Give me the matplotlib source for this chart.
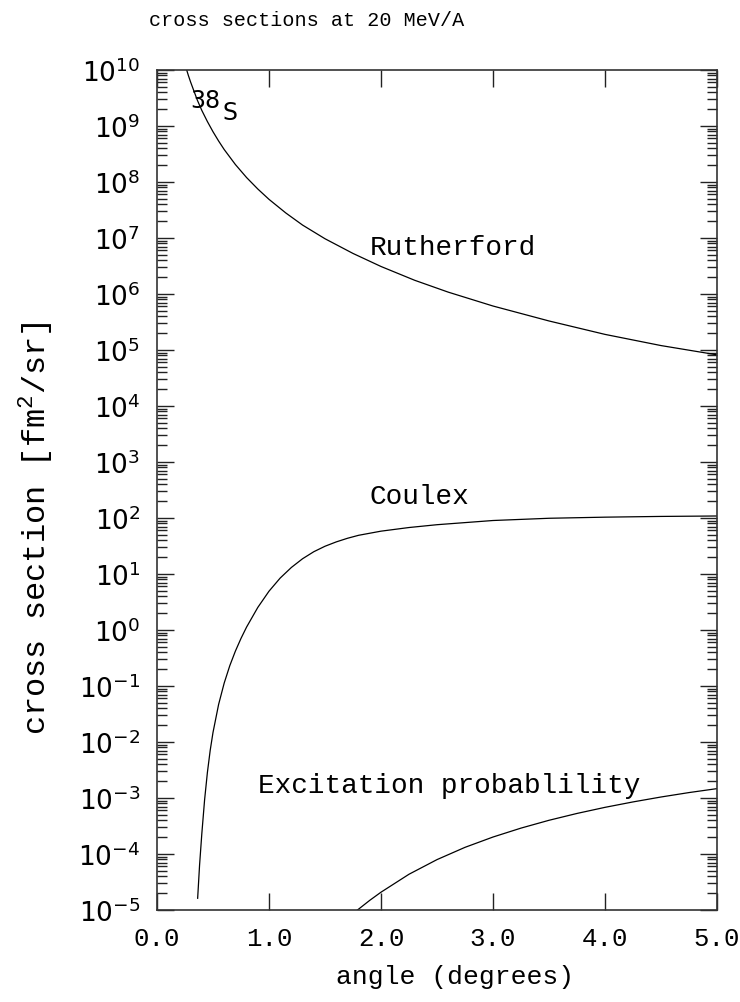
"""Cross sections at 20 MeV/A: Rutherford, Coulex and excitation probability
versus scattering angle, on a log y-axis spanning 1e-5 .. 1e10.

Output: out.png
"""

import matplotlib

matplotlib.use("Agg")
import matplotlib.pyplot as plt
import numpy as np
from matplotlib.ticker import FixedLocator, FuncFormatter, LogLocator, NullLocator

# --- data ------------------------------------------------------------------
rutherford_angle = [0.265, 0.28, 0.30, 0.33, 0.36, 0.40, 0.45, 0.50, 0.55, 0.60,
                    0.70, 0.80, 0.90, 1.00, 1.15, 1.30, 1.50, 1.75, 2.00, 2.30,
                    2.60, 3.00, 3.50, 4.00, 4.50, 5.00]
rutherford_xs = [1.0e10, 8.0e9, 6.1e9, 4.2e9, 2.9e9, 1.9e9, 1.2e9, 7.9e8, 5.4e8, 3.8e8,
                 2.05e8, 1.2e8, 7.5e7, 4.9e7, 2.8e7, 1.7e7, 9.7e6, 5.3e6, 3.1e6, 1.76e6,
                 1.08e6, 6.1e5, 3.3e5, 1.9e5, 1.2e5, 8.2e4]

coulex_angle = [0.363, 0.38, 0.40, 0.425, 0.45, 0.475, 0.50, 0.55, 0.60, 0.65,
                0.70, 0.75, 0.80, 0.90, 1.00, 1.10, 1.20, 1.30, 1.40, 1.50,
                1.60, 1.70, 1.80, 2.00, 2.25, 2.50, 3.00, 3.50, 4.00, 4.50, 5.00]
coulex_xs = [1.62e-5, 6.3e-5, 2.28e-4, 9.3e-4, 2.86e-3, 7.1e-3, 1.48e-2, 4.68e-2, 0.113, 0.231,
             0.420, 0.708, 1.13, 2.53, 4.93, 8.47, 13.1, 18.75, 25.0, 31.3,
             37.4, 43.4, 49.1, 58.2, 67.6, 75.9, 90.2, 98.9, 103.5, 106.7, 108.6]

excit_angle = [1.79, 1.90, 2.00, 2.25, 2.50, 2.75, 3.00, 3.25, 3.50, 3.75,
               4.00, 4.25, 4.50, 4.75, 5.00]
excit_prob = [1.0e-5, 1.49e-5, 2.08e-5, 4.35e-5, 7.94e-5, 1.315e-4, 2.01e-4, 2.90e-4, 4.0e-4, 5.30e-4,
              6.81e-4, 8.51e-4, 1.042e-3, 1.25e-3, 1.47e-3]

x_ticks = [0.0, 1.0, 2.0, 3.0, 4.0, 5.0]
x_ticklabels = ["0.0", "1.0", "2.0", "3.0", "4.0", "5.0"]


def decade_label(v, pos):
    return rf"$10^{{{int(round(np.log10(v)))}}}$"


def main() -> None:
    plt.rcParams["font.family"] = ["Liberation Mono", "DejaVu Sans"]

    fig = plt.figure(figsize=(7.4, 10.02), dpi=100)
    ax = fig.add_axes([157 / 740, 92 / 1002, 560 / 740, 840 / 1002])

    for xs, ys in ((rutherford_angle, rutherford_xs),
                   (coulex_angle, coulex_xs),
                   (excit_angle, excit_prob)):
        ax.plot(xs, ys, color="black", linewidth=0.9)

    ax.set_yscale("log")
    ax.set_xlim(0.0, 5.0)
    ax.set_ylim(1e-5, 1e10)

    ax.xaxis.set_major_locator(FixedLocator(x_ticks))
    ax.set_xticklabels(x_ticklabels)
    ax.xaxis.set_minor_locator(NullLocator())
    ax.yaxis.set_major_locator(LogLocator(base=10, numticks=30))
    ax.yaxis.set_minor_locator(LogLocator(base=10, subs=np.arange(2, 10), numticks=300))
    ax.yaxis.set_major_formatter(FuncFormatter(decade_label))

    ax.tick_params(which="both", direction="in", top=True, right=True,
                   color="#222222", width=1.0)
    ax.tick_params(which="major", length=12)
    ax.tick_params(which="minor", length=7)
    ax.tick_params(axis="x", labelsize=18.5, pad=12)
    ax.tick_params(axis="y", labelsize=19, pad=12)
    for s in ax.spines.values():
        s.set_linewidth(1.2)
        s.set_color("#333333")

    ax.set_xlabel("angle (degrees)", fontsize=19)
    ax.xaxis.set_label_coords((455 - 157) / 560, -0.066)
    ax.set_ylabel(r"cross section [fm$^{\mathdefault{2}}$/sr]", fontsize=23)
    ax.yaxis.set_label_coords(-0.183, 0.455)

    # curve annotations
    ax.text(1.90, 10 ** 6.70, "Rutherford", fontsize=20, va="baseline")
    ax.text(1.90, 10 ** 2.25, "Coulex", fontsize=20, va="baseline")
    ax.text(0.90, 10 ** -2.91, "Excitation probablility", fontsize=20, va="baseline")
    ax.text(0.295, 10 ** 9.32, "38", fontsize=17, family="DejaVu Sans", va="baseline")
    ax.text(0.589, 10 ** 9.10, "S", fontsize=17, family="DejaVu Sans", va="baseline")

    fig.text(307 / 740, 1 - 20 / 1002, "cross sections at 20 MeV/A",
             fontsize=14.5, ha="center", va="center")

    fig.savefig("out.png", dpi=100)
    plt.close(fig)


if __name__ == "__main__":
    main()
